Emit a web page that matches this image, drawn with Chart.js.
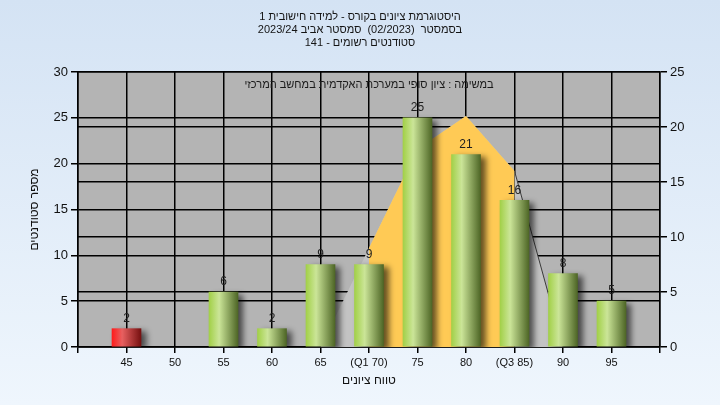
<!DOCTYPE html>
<html>
<head>
<meta charset="utf-8">
<script src="https://cdn.jsdelivr.net/npm/chart.js@4.4.0/dist/chart.umd.min.js"></script>
<style>
  html, body { margin: 0; padding: 0; }
  #contenedor { width: 720px; height: 405px; }
</style>
</head>
<body>
<div id="contenedor"><canvas id="grafica"></canvas></div>
<script>
const SCORES = [45, 50, 55, 60, 65, 70, 75, 80, 85, 90, 95]
const TICK_LABELS = ['45', '50', '55', '60', '65', '(Q1 70)', '75', '80', '(Q3 85)', '90', '95']
const STUDENTS = [2, 0, 6, 2, 9, 9, 25, 21, 16, 8, 5]
// curva sobre el eje derecho
const CURVE = [null, null, null, null, 0, 9, 18, 21, 16, 0, null]
const IQR_AREA = [null, null, null, null, null, 9, 18, 21, 16, null, null]

const TITLE_LINES = [
  'היסטוגרמת ציונים בקורס - למידה חישובית 1',
  'בסמסטר  (02/2023)  סמסטר אביב 2023/24',
  'סטודנטים רשומים - 141'
]
const SUBTITLE = 'במשימה : ציון סופי במערכת האקדמית במחשב המרכזי'
const X_TITLE = 'טווח ציונים'
const Y_TITLE = 'מספר סטודנטים'

const FONT = '"Liberation Sans", Arial, sans-serif'
const BAR_WIDTH = 29

const toPoints = (values) => SCORES.map((s, i) => ({ x: s, y: values[i] }))

function barGradient(context) {
  const chart = context.chart
  if (!chart.chartArea || context.type !== 'data') return '#9cc64a'
  if (!context.raw.y) return 'rgba(0,0,0,0)'
  const x = chart.scales.x.getPixelForValue(context.raw.x)
  const g = chart.ctx.createLinearGradient(x - BAR_WIDTH / 2, 0, x + BAR_WIDTH / 2, 0)
  if (context.raw.x < 50) {
    g.addColorStop(0, '#ff1c1c')
    g.addColorStop(0.35, '#e86060')
    g.addColorStop(1, '#761010')
  } else {
    g.addColorStop(0, '#a2d048')
    g.addColorStop(0.35, '#cbe598')
    g.addColorStop(1, '#4e6626')
  }
  return g
}

const fondo = {
  id: 'fondo',
  beforeDraw(chart) {
    const { ctx, width, height, chartArea } = chart
    ctx.save()
    const g = ctx.createLinearGradient(0, 0, 0, height)
    g.addColorStop(0, '#d4e3f4')
    g.addColorStop(1, '#eff6fd')
    ctx.fillStyle = g
    ctx.fillRect(0, 0, width, height)
    ctx.fillStyle = '#b4b4b4'
    ctx.fillRect(chartArea.left, chartArea.top, chartArea.right - chartArea.left, chartArea.bottom - chartArea.top)
    ctx.restore()
    ctx.direction = 'rtl'
  },
  afterDraw(chart) {
    const { ctx, chartArea } = chart
    ctx.save()
    ctx.direction = 'rtl'
    ctx.font = '11px ' + FONT
    ctx.fillStyle = '#1a1a1a'
    ctx.textAlign = 'center'
    ctx.textBaseline = 'middle'
    ctx.fillText(SUBTITLE, (chartArea.left + chartArea.right) / 2, chartArea.top + 13)
    ctx.restore()
  }
}

const sombraBarras = {
  id: 'sombraBarras',
  beforeDatasetDraw(chart, args) {
    if (args.meta.type !== 'bar') return
    const ctx = chart.ctx
    ctx.save()
    ctx.shadowColor = 'rgba(0,0,0,0.6)'
    ctx.shadowBlur = 6
    ctx.shadowOffsetX = 5
    ctx.shadowOffsetY = 3
  },
  afterDatasetDraw(chart, args) {
    if (args.meta.type !== 'bar') return
    chart.ctx.restore()
  }
}

const etiquetas = {
  id: 'etiquetas',
  afterDatasetsDraw(chart) {
    const ctx = chart.ctx
    chart.data.datasets.forEach((ds, i) => {
      const meta = chart.getDatasetMeta(i)
      if (meta.type !== 'bar') return
      ctx.save()
      ctx.font = '12px ' + FONT
      ctx.fillStyle = '#1e1e1e'
      ctx.textAlign = 'center'
      ctx.textBaseline = 'bottom'
      meta.data.forEach((bar, j) => {
        const v = ds.data[j].y
        if (!v) return
        ctx.fillText(String(v), bar.x, bar.y - 4)
      })
      ctx.restore()
    })
  }
}

const ctx = document.getElementById('grafica').getContext('2d')

new Chart(ctx, {
  type: 'bar',
  data: {
    datasets: [
      {
        type: 'bar',
        data: toPoints(STUDENTS),
        yAxisID: 'y',
        backgroundColor: barGradient,
        barThickness: BAR_WIDTH,
        borderWidth: 0,
        order: 0
      },
      {
        type: 'line',
        data: toPoints(IQR_AREA),
        yAxisID: 'y2',
        backgroundColor: '#ffca55',
        borderColor: 'rgba(0,0,0,0)',
        borderWidth: 0,
        fill: 'origin',
        pointRadius: 0,
        tension: 0,
        order: 1
      },
      {
        type: 'line',
        data: toPoints(CURVE),
        yAxisID: 'y2',
        backgroundColor: '#c3c3c3',
        borderWidth: 1,
        segment: {
          borderColor: c => c.p0DataIndex === 8 ? '#3a3a3a' : 'rgba(0,0,0,0)'
        },
        fill: 'origin',
        pointRadius: 0,
        tension: 0,
        order: 2
      }
    ]
  },
  options: {
    responsive: true,
    maintainAspectRatio: false,
    animation: false,
    devicePixelRatio: 1,
    layout: { padding: 0 },
    plugins: {
      legend: { display: false },
      tooltip: { enabled: false },
      title: {
        display: true,
        text: TITLE_LINES,
        color: '#141414',
        font: { family: FONT, size: 11, weight: 'normal', lineHeight: 1.1818 },
        padding: { top: 10.5, bottom: 22.5 }
      }
    },
    scales: {
      x: {
        type: 'linear',
        min: 40,
        max: 100,
        offset: false,
        ticks: {
          stepSize: 5,
          autoSkip: false,
          maxRotation: 0,
          padding: 3,
          color: '#111',
          font: { family: FONT, size: 11 },
          callback: v => {
            const i = SCORES.indexOf(v)
            return i < 0 ? '' : TICK_LABELS[i]
          }
        },
        grid: { offset: false, color: '#000', lineWidth: 1.5, tickLength: 6 },
        border: { color: '#000', width: 1.5 },
        title: {
          display: true,
          text: X_TITLE,
          color: '#111',
          font: { family: FONT, size: 12 },
          padding: { top: 0, bottom: 17 }
        },
        afterFit: s => { s.height = 58 }
      },
      y: {
        position: 'left',
        min: 0,
        max: 30,
        ticks: { stepSize: 5, padding: 3, color: '#111', font: { family: FONT, size: 13 } },
        grid: { color: '#000', lineWidth: 1.5, tickLength: 7 },
        border: { color: '#000', width: 1.5 },
        title: {
          display: true,
          text: Y_TITLE,
          color: '#111',
          font: { family: FONT, size: 12 },
          padding: { top: 27, bottom: 0 }
        },
        afterFit: s => { s.width = 78 }
      },
      y2: {
        position: 'right',
        min: 0,
        max: 25,
        ticks: { stepSize: 5, padding: 3, color: '#111', font: { family: FONT, size: 13 } },
        grid: { color: '#000', lineWidth: 1.5, tickLength: 7 },
        border: { color: '#000', width: 1.5 },
        afterFit: s => { s.width = 60 }
      }
    }
  },
  plugins: [fondo, sombraBarras, etiquetas]
})
</script>
</body>
</html>
